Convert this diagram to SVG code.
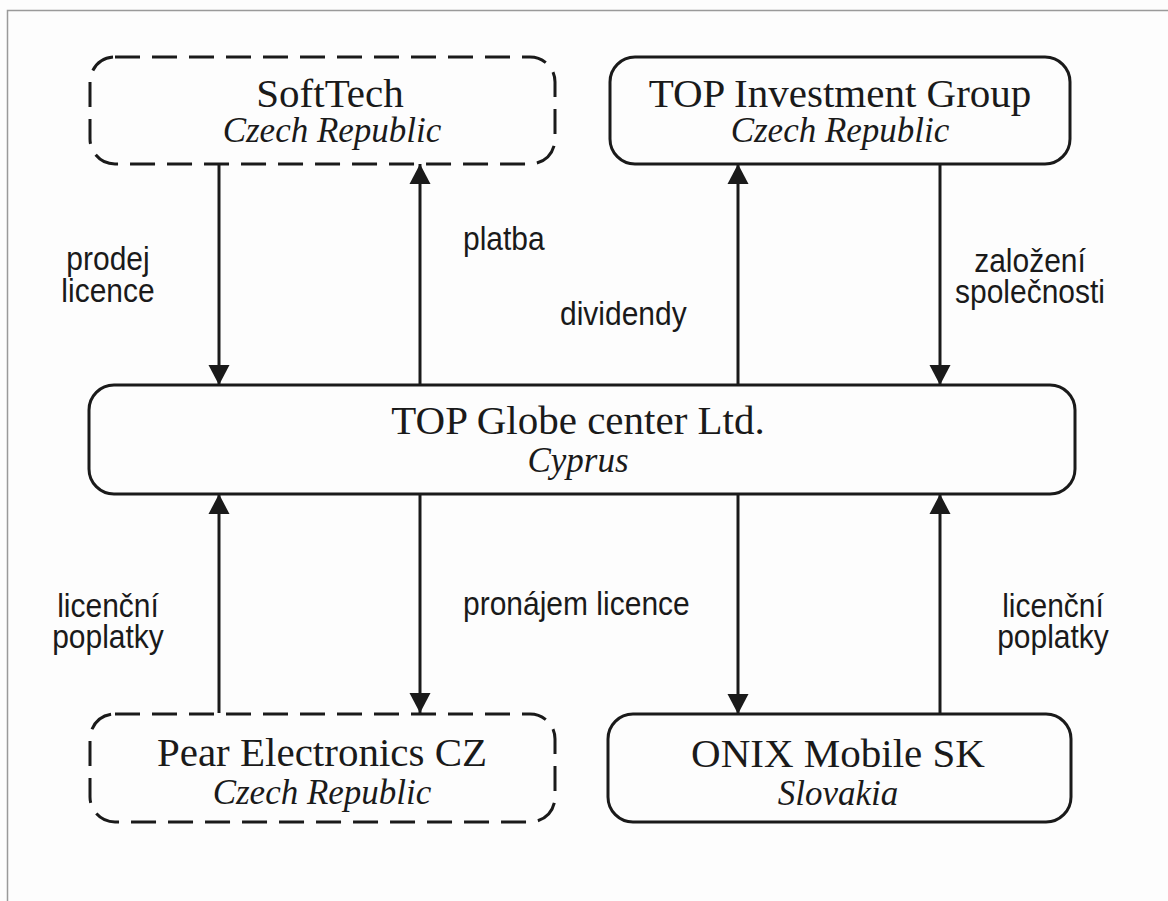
<svg xmlns="http://www.w3.org/2000/svg" width="1168" height="901" viewBox="0 0 1168 901">
<style>
.box{fill:none;stroke:#1a1a1a;stroke-width:3}
.dash{stroke-dasharray:25 12}
.t{font-family:"Liberation Serif","Times New Roman",serif;font-size:41px;fill:#1a1a1a;text-anchor:middle}
.s{font-family:"Liberation Serif","Times New Roman",serif;font-style:italic;font-size:35px;fill:#1a1a1a;text-anchor:middle}
.l{font-family:"Liberation Sans",Arial,sans-serif;font-size:30px;fill:#1a1a1a}
.c{text-anchor:middle}
.a{stroke:#1a1a1a;stroke-width:3;fill:none;marker-end:url(#ah)}
</style>
<defs>
<marker id="ah" markerUnits="userSpaceOnUse" markerWidth="22" markerHeight="22" viewBox="0 0 22 22" refX="20" refY="11" orient="auto">
<path d="M0,0.5 L20,11 L0,21.5 Z" fill="#1a1a1a"/>
</marker>
</defs>
<rect x="0" y="0" width="1168" height="901" fill="#fdfdfd"/>
<path d="M7.5,901 V10.5 H1168" fill="none" stroke="#9a9a9a" stroke-width="1.5"/>
<g id="connectors">
<line class="a" x1="219" y1="165" x2="219" y2="385"/>
<line class="a" x1="420" y1="385" x2="420" y2="164"/>
<line class="a" x1="738" y1="385" x2="738" y2="164"/>
<line class="a" x1="940" y1="165" x2="940" y2="385"/>
<line class="a" x1="219" y1="713" x2="219" y2="494"/>
<line class="a" x1="420" y1="494" x2="420" y2="713"/>
<line class="a" x1="738" y1="494" x2="738" y2="714"/>
<line class="a" x1="940" y1="714" x2="940" y2="494"/>
</g>
<g id="labels">
<text class="l c" transform="translate(108,270) scale(1,1.12)"><tspan x="0" y="0">prodej</tspan><tspan x="0" y="28.5">licence</tspan></text>
<text class="l" transform="translate(463,250) scale(1,1.12)">platba</text>
<text class="l" transform="translate(560,325) scale(1,1.12)">dividendy</text>
<text class="l c" transform="translate(1030,272) scale(1,1.12)"><tspan x="0" y="0">založení</tspan><tspan x="0" y="27.7">společnosti</tspan></text>
<text class="l c" transform="translate(108,617) scale(1,1.12)"><tspan x="0" y="0">licenční</tspan><tspan x="0" y="27.7">poplatky</tspan></text>
<text class="l" transform="translate(463,615) scale(1,1.12)">pronájem licence</text>
<text class="l c" transform="translate(1053,617) scale(1,1.12)"><tspan x="0" y="0">licenční</tspan><tspan x="0" y="27.7">poplatky</tspan></text>
</g>
<g id="softtech">
<rect class="box dash" x="90" y="57" width="465" height="107" rx="25"/>
<text class="t" x="330" y="107">SoftTech</text>
<text class="s" x="332" y="142">Czech Republic</text>
</g>
<g id="top-investment">
<rect class="box" x="610" y="57" width="460" height="107" rx="25"/>
<text class="t" x="840" y="107">TOP Investment Group</text>
<text class="s" x="840" y="142">Czech Republic</text>
</g>
<g id="top-globe">
<rect class="box" x="89" y="385" width="986" height="109" rx="25"/>
<text class="t" x="578" y="434">TOP Globe center Ltd.</text>
<text class="s" x="578" y="472">Cyprus</text>
</g>
<g id="pear">
<rect class="box dash" x="90" y="714" width="465" height="108" rx="25"/>
<text class="t" x="322" y="766">Pear Electronics CZ</text>
<text class="s" x="322" y="804">Czech Republic</text>
</g>
<g id="onix">
<rect class="box" x="608" y="714" width="463" height="108" rx="25"/>
<text class="t" x="838" y="767">ONIX Mobile SK</text>
<text class="s" x="838" y="805">Slovakia</text>
</g>
</svg>
